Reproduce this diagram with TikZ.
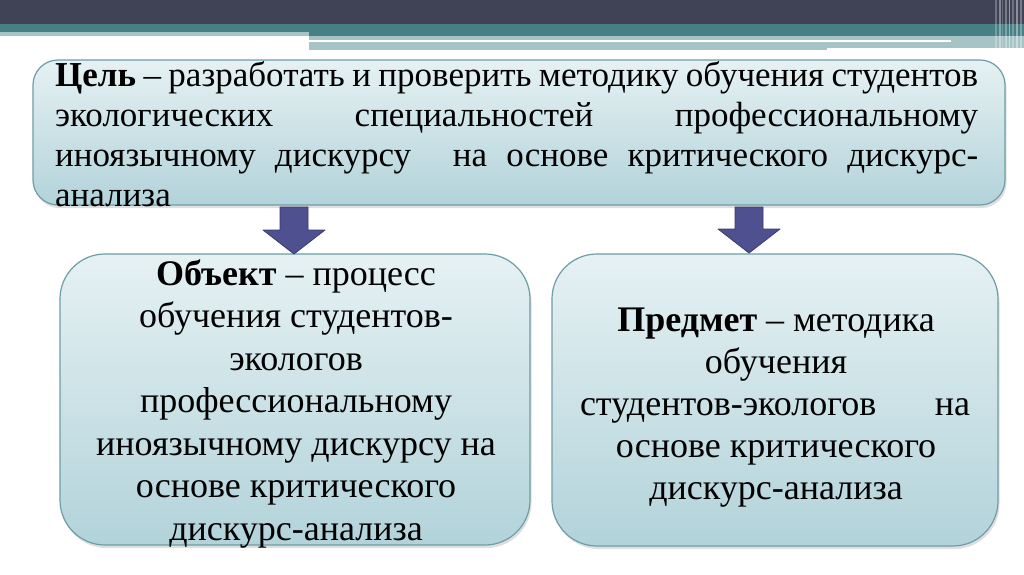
\documentclass[tikz,border=0pt]{standalone}
\usepackage{fontspec}
\setmainfont{Liberation Serif}
\usetikzlibrary{shadows}
\definecolor{darkbar}{RGB}{64,67,86}
\definecolor{tealbar}{RGB}{70,127,132}
\definecolor{lightbar}{RGB}{166,195,198}
\definecolor{boxtop}{RGB}{230,241,243}
\definecolor{boxbot}{RGB}{178,211,218}
\definecolor{boxline}{RGB}{110,158,165}
\definecolor{arrowfill}{RGB}{78,80,143}
\definecolor{arrowline}{RGB}{58,60,112}
\def\wg{\hskip 8pt plus 1fil minus 4pt}
\def\wgbig{\hskip 8pt plus 3fil minus 4pt}
\tikzset{
  panel/.style={draw=boxline, line width=1.2pt, top color=boxtop, bottom color=boxbot,
    drop shadow={opacity=0.25, shadow xshift=1.5pt, shadow yshift=-3pt}, inner sep=0pt},
  txt/.style={inner sep=0pt, font=\fontsize{35}{40}\selectfont, text=black},
  txtb/.style={inner sep=0pt, font=\fontsize{36}{42}\selectfont, text=black},
  blockarrow/.style={fill=arrowfill, draw=arrowline, line width=0.8pt, line join=round}
}
\begin{document}
\begin{tikzpicture}[x=1pt,y=-1pt]
\useasboundingbox (0,0) rectangle (1024,574);
\fill[white] (0,0) rectangle (1024,574);
% top decoration
\fill[darkbar] (0,0) rectangle (1024,24);
\fill[tealbar] (0,24) rectangle (1024,32);
\fill[lightbar] (0,32) rectangle (309,36);
\fill[tealbar] (309,32) rectangle (1024,36);
\fill[lightbar] (309,36) rectangle (1024,48);
\fill[white] (309,40) rectangle (951,42);
\fill[lightbar] (309,48) rectangle (827,50);
\foreach \x/\w/\o in {995/2/0.25, 999/1.5/0.35, 1002/1/0.2, 1005/2/0.3, 1009/1/0.45, 1012/2/0.25, 1016/1.5/0.4, 1020/2/0.3}{
  \fill[white, opacity=\o] (\x,0) rectangle (\x+\w,50);
}
% boxes
\node[panel, rounded corners=25pt, minimum width=972pt, minimum height=145pt] (goal) at (519,132.5) {};
\node[panel, rounded corners=45pt, minimum width=470pt, minimum height=291pt] (obj) at (295,399.5) {};
\node[panel, rounded corners=45pt, minimum width=446pt, minimum height=292pt] (subj) at (775,400) {};
% arrows
\path[blockarrow] (280,207) -- (308,207) -- (308,230) -- (325,230) -- (294,254) -- (263,230) -- (280,230) -- cycle;
\path[blockarrow] (735,207) -- (763,207) -- (763,229) -- (780,229) -- (749,253) -- (718,229) -- (735,229) -- cycle;
% goal text
\node[txt, anchor=base west] (g1) at (55,86) {\hbox to 923pt{\textbf{Цель}\wg –\wg разработать\wg и\wg проверить\wg методику\wg обучения\wg студентов}};
\node[txt, anchor=base west] (g2) at (55,126) {\hbox to 923pt{экологических\wg специальностей\wg профессиональному}};
\node[txt, anchor=base west] (g3) at (55,166) {\hbox to 923pt{иноязычному\wg дискурсу\wgbig на\wg основе\wg критического\wg дискурс-}};
\node[txt, anchor=base west] (g4) at (55,206) {анализа};
% object text
\node[txtb, anchor=base] (o1) at (296,285) {\textbf{Объект} – процесс};
\node[txtb, anchor=base] (o2) at (296,327.5) {обучения студентов-};
\node[txtb, anchor=base] (o3) at (296,370) {экологов};
\node[txtb, anchor=base] (o4) at (296,412.5) {профессиональному};
\node[txtb, anchor=base] (o5) at (296,455) {иноязычному дискурсу на};
\node[txtb, anchor=base] (o6) at (296,497.5) {основе критического};
\node[txtb, anchor=base] (o7) at (296,540) {дискурс-анализа};
% subject text
\node[txtb, anchor=base] (s1) at (776,331) {\textbf{Предмет} – методика};
\node[txtb, anchor=base] (s2) at (776,373) {обучения};
\node[txtb, anchor=base] (s3) at (775,415) {\hbox to 390pt{студентов-экологов\hfill на}};
\node[txtb, anchor=base] (s4) at (776,457) {основе критического};
\node[txtb, anchor=base] (s5) at (776,499) {дискурс-анализа};
\end{tikzpicture}
\end{document}
